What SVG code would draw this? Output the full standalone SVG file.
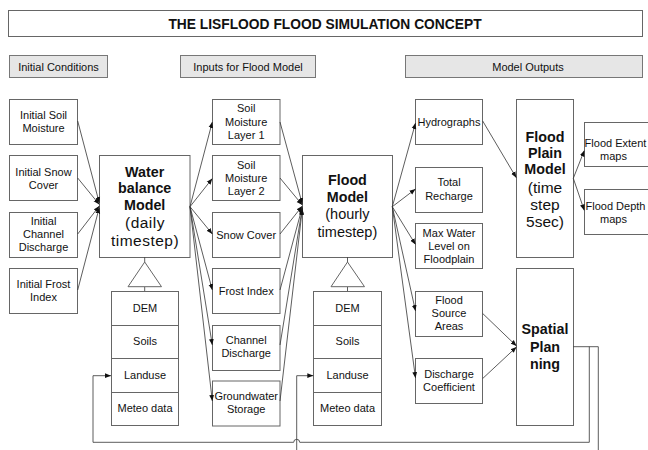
<svg xmlns="http://www.w3.org/2000/svg" width="648" height="450" viewBox="0 0 648 450">
<style>
.bx{fill:#fff;stroke:#666;stroke-width:1}
.hd{fill:#e6e6e6;stroke:#777;stroke-width:1}
.t{font-family:"Liberation Sans",Arial,sans-serif;font-size:11px;fill:#111;text-anchor:middle}
.b{font-family:"Liberation Sans",Arial,sans-serif;font-size:14.3px;font-weight:bold;fill:#111;text-anchor:middle}
.r{font-family:"Liberation Sans",Arial,sans-serif;fill:#111;text-anchor:middle}
.ln{fill:none;stroke:#333;stroke-width:0.8}
.ar{fill:none;stroke:#333;stroke-width:0.8;marker-end:url(#ah)}
</style>
<defs>
<marker id="ah" markerUnits="userSpaceOnUse" markerWidth="6" markerHeight="6" viewBox="0 0 6 6" refX="6" refY="3" orient="auto">
<path d="M0,0.6 L6,3 L0,5.4 Z" fill="#111"/>
</marker>
</defs>
<rect width="648" height="450" fill="#fff"/>

<g id="title">
<rect class="bx" x="8.5" y="10.5" width="634" height="26"/>
<text x="325" y="28.5" class="r" style="font-size:13.8px;font-weight:bold">THE LISFLOOD FLOOD SIMULATION CONCEPT</text>
</g>

<g id="hdr-initial"><rect class="hd" x="9.5" y="55.5" width="98" height="22"/><text class="t" x="58.5" y="70.5">Initial Conditions</text></g>
<g id="hdr-inputs"><rect class="hd" x="180.5" y="55.5" width="135" height="22"/><text class="t" x="248" y="70.5">Inputs for Flood Model</text></g>
<g id="hdr-outputs"><rect class="hd" x="405.5" y="55.5" width="237" height="22"/><text class="t" x="528" y="70.5">Model Outputs</text></g>

<g id="init-soil"><rect class="bx" x="9.5" y="99.5" width="68" height="45"/><text class="t" x="43.5" y="119.2">Initial Soil</text><text class="t" x="43.5" y="132.2">Moisture</text></g>
<g id="init-snow"><rect class="bx" x="9.5" y="155.5" width="68" height="45"/><text class="t" x="43.5" y="175.7">Initial Snow</text><text class="t" x="43.5" y="188.7">Cover</text></g>
<g id="init-channel"><rect class="bx" x="9.5" y="212.5" width="68" height="45"/><text class="t" x="43.5" y="225.3">Initial</text><text class="t" x="43.5" y="238.3">Channel</text><text class="t" x="43.5" y="251.3">Discharge</text></g>
<g id="init-frost"><rect class="bx" x="9.5" y="268.5" width="68" height="45"/><text class="t" x="43.5" y="288.3">Initial Frost</text><text class="t" x="43.5" y="301.3">Index</text></g>

<g id="water-balance"><rect class="bx" x="99.5" y="155.5" width="90.5" height="102"/>
<text class="b" x="144.7" y="176.5">Water</text><text class="b" x="144.7" y="193">balance</text><text class="b" x="144.7" y="209.5">Model</text>
<text class="r" style="font-size:15.5px;letter-spacing:0.5px" x="145" y="227.5">(daily</text><text class="r" style="font-size:15.5px;letter-spacing:0.5px" x="145" y="245.5">timestep)</text></g>

<g id="wb-data">
<path class="ln" d="M144.7,257.3 V262 M144.7,286.7 V291.3"/>
<path class="bx" d="M144.7,262 L128,286.7 H161.5 Z"/>
<rect class="bx" x="111.5" y="291.5" width="67" height="34"/><text class="t" x="145" y="311.5">DEM</text>
<rect class="bx" x="111.5" y="325.5" width="67" height="33"/><text class="t" x="145" y="344.8">Soils</text>
<rect class="bx" x="111.5" y="358.5" width="67" height="34"/><text class="t" x="145" y="379">Landuse</text>
<rect class="bx" x="111.5" y="392.5" width="67" height="33"/><text class="t" x="145" y="412.3">Meteo data</text>
</g>

<g id="in-sm1"><rect class="bx" x="212.5" y="99.5" width="67.5" height="45"/><text class="t" x="246.2" y="112.3">Soil</text><text class="t" x="246.2" y="125.5">Moisture</text><text class="t" x="246.2" y="138.8">Layer 1</text></g>
<g id="in-sm2"><rect class="bx" x="212.5" y="155.5" width="67.5" height="45"/><text class="t" x="246.2" y="168.7">Soil</text><text class="t" x="246.2" y="182">Moisture</text><text class="t" x="246.2" y="195.3">Layer 2</text></g>
<g id="in-snow"><rect class="bx" x="212.5" y="212.5" width="67.5" height="45"/><text class="t" x="246.2" y="238.8">Snow Cover</text></g>
<g id="in-frost"><rect class="bx" x="212.5" y="268.5" width="67.5" height="45"/><text class="t" x="246.2" y="294.8">Frost Index</text></g>
<g id="in-channel"><rect class="bx" x="212.5" y="325.5" width="67.5" height="45"/><text class="t" x="246.2" y="343.5">Channel</text><text class="t" x="246.2" y="356.7">Discharge</text></g>
<g id="in-ground"><rect class="bx" x="212.5" y="381" width="67.5" height="45"/><text class="t" x="246.2" y="400">Groundwater</text><text class="t" x="246.2" y="413.3">Storage</text></g>

<g id="flood-model"><rect class="bx" x="302.5" y="155.5" width="90" height="102"/>
<text class="b" x="347.4" y="185">Flood</text><text class="b" x="347.4" y="202.3">Model</text>
<text class="r" style="font-size:14.5px" x="347.4" y="218.5">(hourly</text><text class="r" style="font-size:14.5px" x="347.4" y="236.5">timestep)</text></g>

<g id="fm-data">
<path class="ln" d="M347.5,257.3 V262 M347.5,286.7 V291.3"/>
<path class="bx" d="M347.5,262 L331,286.7 H364.5 Z"/>
<rect class="bx" x="313.5" y="291.5" width="68" height="34"/><text class="t" x="347.5" y="311.5">DEM</text>
<rect class="bx" x="313.5" y="325.5" width="68" height="33"/><text class="t" x="347.5" y="344.8">Soils</text>
<rect class="bx" x="313.5" y="358.5" width="68" height="34"/><text class="t" x="347.5" y="379">Landuse</text>
<rect class="bx" x="313.5" y="392.5" width="68" height="33"/><text class="t" x="347.5" y="412.3">Meteo data</text>
</g>

<g id="out-hydro"><rect class="bx" x="415.5" y="99.5" width="67" height="45"/><text class="t" x="449" y="125.5">Hydrographs</text></g>
<g id="out-recharge"><rect class="bx" x="415.5" y="167.5" width="67" height="45"/><text class="t" x="449" y="185.7">Total</text><text class="t" x="449" y="199.5">Recharge</text></g>
<g id="out-maxwater"><rect class="bx" x="415.5" y="223.5" width="67" height="45"/><text class="t" x="449" y="236.5">Max Water</text><text class="t" x="449" y="249.5">Level on</text><text class="t" x="449" y="262.5">Floodplain</text></g>
<g id="out-source"><rect class="bx" x="415.5" y="291.5" width="67" height="45"/><text class="t" x="449" y="304">Flood</text><text class="t" x="449" y="317">Source</text><text class="t" x="449" y="330">Areas</text></g>
<g id="out-coeff"><rect class="bx" x="415.5" y="358.5" width="67" height="45"/><text class="t" x="449" y="378">Discharge</text><text class="t" x="449" y="391">Coefficient</text></g>

<g id="floodplain"><rect class="bx" x="516.5" y="99.5" width="57" height="158"/>
<text class="b" x="545" y="141.7">Flood</text><text class="b" x="545" y="157.7">Plain</text><text class="b" x="545" y="173.5">Model</text>
<text class="r" style="font-size:15.5px" x="545" y="193">(time</text><text class="r" style="font-size:15.5px" x="545" y="210.3">step</text><text class="r" style="font-size:15.5px" x="545" y="227">5sec)</text></g>

<g id="spatial"><rect class="bx" x="516.5" y="268.5" width="57" height="157"/>
<text class="b" x="545" y="334.3">Spatial</text><text class="b" x="545" y="352.3">Plan</text><text class="b" x="545" y="369">ning</text></g>

<g id="extent"><rect class="bx" x="584.5" y="122.5" width="70" height="44"/><text class="t" x="615.5" y="146.7">Flood Extent</text><text class="t" x="613.5" y="160">maps</text></g>
<g id="depth"><rect class="bx" x="584.5" y="189.5" width="70" height="45"/><text class="t" x="615.5" y="210">Flood Depth</text><text class="t" x="613.5" y="223">maps</text></g>

<g id="connectors">
<path class="ar" d="M77.7,121 L99.3,203"/>
<path class="ar" d="M77.7,178 L99.3,204.5"/>
<path class="ar" d="M77.7,234 L99.3,206"/>
<path class="ar" d="M77.7,290 L99.3,207.5"/>

<path class="ar" d="M190,206.7 L212.3,122"/>
<path class="ar" d="M190,206.7 L212.3,178.5"/>
<path class="ar" d="M190,206.7 L212.3,234"/>
<path class="ar" d="M190,206.7 L212.3,290"/>
<path class="ar" d="M190,206.7 L212.3,345"/>
<path class="ar" d="M190,206.7 L212.3,401"/>

<path class="ar" d="M280,122 L302.3,204"/>
<path class="ar" d="M280,178 L302.3,205"/>
<path class="ar" d="M280,234 L302.3,206"/>
<path class="ar" d="M280,290 L302.3,207"/>
<path class="ar" d="M280,345 L302.3,208"/>
<path class="ar" d="M280,401 L302.3,209"/>

<path class="ar" d="M392.3,206.7 L415.5,123"/>
<path class="ar" d="M392.3,206.7 L415.5,189"/>
<path class="ar" d="M392.3,206.7 L415.5,244.5"/>
<path class="ar" d="M392.3,206.7 L415.5,311"/>
<path class="ar" d="M392.3,206.7 L415.5,378"/>

<path class="ar" d="M482.7,121 L516.3,177.7"/>
<path class="ar" d="M573.3,178.3 L584.3,150.5"/>
<path class="ar" d="M573.3,178.3 L584.3,210.5"/>

<path class="ar" d="M482.7,313.5 L516.5,346"/>
<path class="ar" d="M482.7,378.5 L516.5,347"/>

<path class="ln" d="M573.3,346.7 H598.3 V450"/>
<path class="ar" d="M589.3,346.7 V442.3 H299.7 A3,3 0 0 0 293.7,442.3 H93 V375.7 H111"/>
<path class="ar" d="M296.7,450 V375.7 H313.3"/>
</g>
</svg>
